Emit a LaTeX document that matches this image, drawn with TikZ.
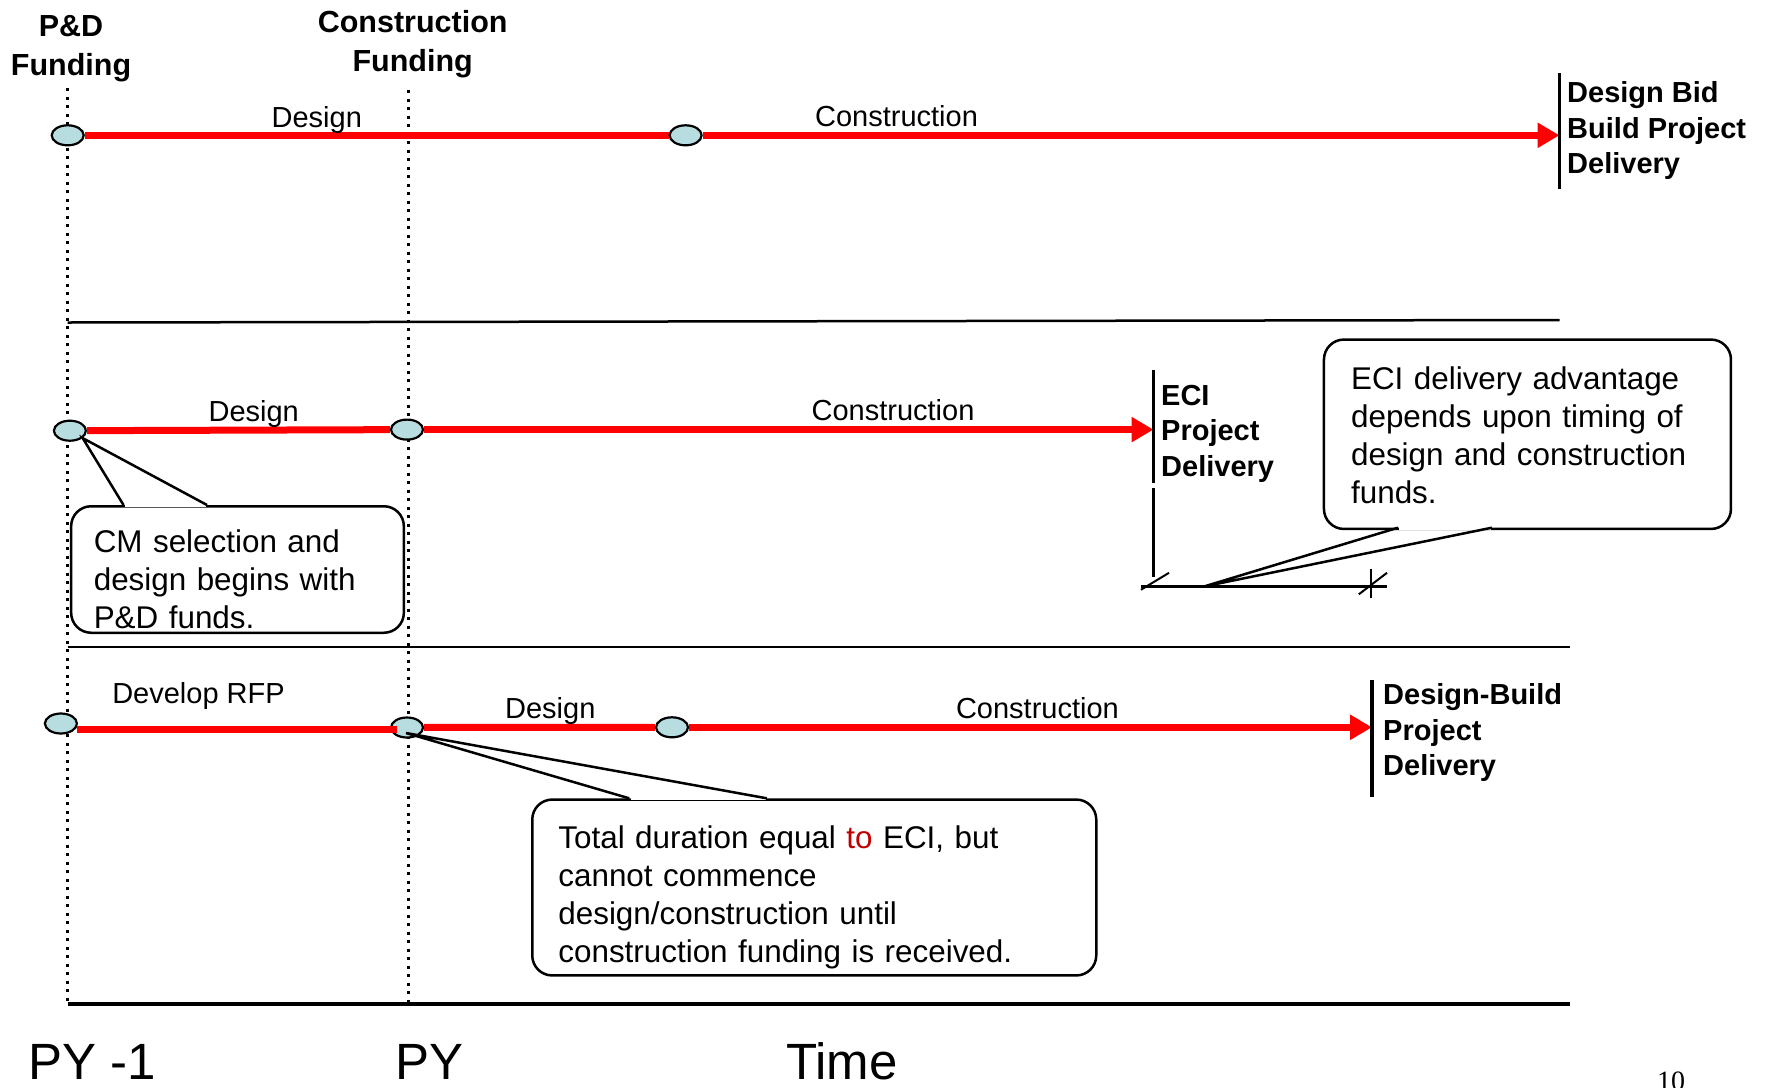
\documentclass[tikz,border=0pt]{standalone}
\usepackage{fontspec}
\setmainfont{Liberation Sans}
\newfontfamily\pagenumfont{Liberation Serif}
\usepackage{tikz}
\usetikzlibrary{arrows.meta}
\usetikzlibrary{shapes.geometric}
\pgfdeclarelayer{background}
\pgfsetlayers{background,main}
\definecolor{ovalblue}{RGB}{183,221,224}
\definecolor{notered}{RGB}{192,0,0}

\begin{document}
\begin{tikzpicture}[x=1pt,y=-1pt,
		oval/.style={ellipse,draw,line width=2.2pt,fill=ovalblue,
			minimum width=32pt,minimum height=20pt,inner sep=0pt},
		phase/.style={red,line width=7pt},
		phase end/.style={phase,-{Triangle[length=22pt,width=24pt]}},
		phase name/.style={font=\fontsize{29}{35}\selectfont,anchor=base,inner sep=0pt},
		head/.style={font=\bfseries\fontsize{30.5}{39}\selectfont,align=center,inner sep=0pt},
		delivery/.style={font=\bfseries\fontsize{29}{35.5}\selectfont,align=left,
			anchor=west,inner sep=0pt},
		bar/.style={line width=3.5pt},
		note box/.style={draw,line width=2.5pt,rounded corners=20pt,fill=white,
			anchor=north west,inner sep=0pt},
		note/.style={font=\fontsize{31.4}{38}\selectfont,align=left,anchor=base west,inner sep=0pt},
		pointer/.style={line width=2.5pt},
		guide/.style={line width=3pt,dash pattern=on 3pt off 5.5pt},
		rule/.style={line width=2.5pt},
		axis/.style={font=\fontsize{51}{60}\selectfont,anchor=base,inner sep=0pt}]

	\useasboundingbox (0,0) rectangle (1768,1087);

	\node[head] (PD) at (71,48.5) {P\&D\\Funding};
	\node[head] (CF) at (412.7,44) {Construction\\Funding};

	\coordinate (L1) at (67.7,88);
	\coordinate (L2) at (67.7,1004);
	\coordinate (R1) at (408,90);
	\coordinate (R2) at (408,1004);

	\node[oval] (A) at (67.7,135.3) {};
	\node[oval] (B) at (685.6,135.3) {};
	\node[oval] (C) at (69.9,430.7) {};
	\node[oval] (D) at (407,429.6) {};
	\node[oval] (E) at (60.9,723.5) {};
	\node[oval] (F) at (407,727.5) {};
	\node[oval] (G) at (672,727.3) {};

	\coordinate (H1) at (1559.5,73);
	\coordinate (H2) at (1559.5,189);
	\coordinate (I1) at (1153.5,370);
	\coordinate (I2) at (1153.5,482.6);
	\coordinate (J1) at (1372,680);
	\coordinate (J2) at (1372,797);

	\node[delivery] (DBB) at (1567,130.5) {Design Bid\\Build Project\\Delivery};
	\node[delivery] (ECI) at (1161,433.5) {ECI\\Project\\Delivery};
	\node[delivery] (DB) at (1383,732.5) {Design-Build\\Project\\Delivery};
	\draw[bar] (H1) -- (H2);
	\draw[bar] (I1) -- (I2);
	\draw[bar] (J1) -- (J2);

	\node[phase name] (d1) at (316.8,127.5) {Design};
	\node[phase name] (c1) at (896.5,126.5) {Construction};
	\node[phase name] (d2) at (253.7,421.6) {Design};
	\node[phase name] (c2) at (893,420.5) {Construction};
	\node[phase name] (rfp) at (198.5,703.5) {Develop RFP};
	\node[phase name] (d3) at (550.3,718) {Design};
	\node[phase name] (c3) at (1037.4,718) {Construction};

	\begin{pgfonlayer}{background}
		\draw[guide] (L1) -- (L2);
		\draw[guide] (R1) -- (R2);
		\draw[rule] (67.7,322.5) -- (1559.5,320);
		\draw[rule] (67.7,647) -- (1569.6,647);
		\draw[line width=4pt] (L2) -- (1569.6,1004);
		\draw[phase] (A) -- (B);
		\draw[phase end] (B) -- (A -| H1);
		\draw[phase] (C) -- (D);
		\draw[phase end] (D) -- (D -| I1);
		\draw[phase] (F) -- (G);
		\draw[phase end] (G) -- (G -| J1);
	\end{pgfonlayer}

	\coordinate (E1) at (76.5,729.3);
	\coordinate (E2) at (397,729.3);
	\draw[phase] (E1) -- (E2);

	\coordinate (K1) at (1153.5,488);
	\coordinate (K2) at (1153.5,577);
	\coordinate (M1) at (1141,586.4);
	\coordinate (M2) at (1387,586.4);
	\coordinate (M) at (1204.3,586.4);
	\draw[rule] (K1) -- (K2);
	\draw[rule] (M1) -- (M2);
	\draw[line width=2pt] (1141,589.7) -- (1169,572.8);
	\draw[line width=2pt] (1358.8,594.3) -- (1387,572.8);
	\draw[line width=2pt] (1371,569.4) -- (1371,597.6);

	\node[note box,minimum width=332.7pt,minimum height=126.5pt] (CMbox) at (69.9,505) {};
	\coordinate (P1) at (123.5,505);
	\coordinate (P2) at (207,505);
	\draw[white,line width=4pt,shorten <=1.3pt,shorten >=1.3pt] (P1) -- (P2);
	\draw[pointer] (P1) -- (C.-30) -- (P2);
	\node[note,text width=310pt] (CMtext) at (93.6,552.7)
		{CM selection and\\design begins with\\P\&D funds.};

	\node[note box,minimum width=407pt,minimum height=189.4pt] (ECIbox) at (1322.7,338.3) {};
	\coordinate (Q1) at (1398,527.7);
	\coordinate (Q2) at (1491.8,527.7);
	\draw[white,line width=4pt,shorten <=1.3pt,shorten >=1.3pt] (Q1) -- (Q2);
	\draw[pointer] (Q1) -- (M) -- (Q2);
	\node[note,text width=370pt] (ECItext) at (1350.9,389)
		{ECI delivery advantage\\depends upon timing of\\design and construction\\funds.};

	\node[note box,minimum width=564pt,minimum height=175.9pt] (DBbox) at (531,798.3) {};
	\coordinate (S1) at (629.2,798.3);
	\coordinate (S2) at (766.8,798.3);
	\coordinate (S) at (406,733);
	\draw[white,line width=4pt,shorten <=1.3pt,shorten >=1.3pt] (S1) -- (S2);
	\draw[pointer] (S1) -- (S) -- (S2);
	\node[note,text width=520pt] (DBtext) at (558.2,848)
		{Total duration equal \textcolor{notered}{to} ECI, but\\cannot commence\\design/construction until\\construction funding is received.};

	\node[axis] (PY1) at (92.5,1079) {PY -1};
	\node[axis] (PY) at (429.6,1079) {PY};
	\node[axis] (T) at (842,1079) {Time};
	\node[font=\pagenumfont\fontsize{28}{30}\selectfont,anchor=base,inner sep=0pt] (N) at (1671,1090) {10};
\end{tikzpicture}
\end{document}
